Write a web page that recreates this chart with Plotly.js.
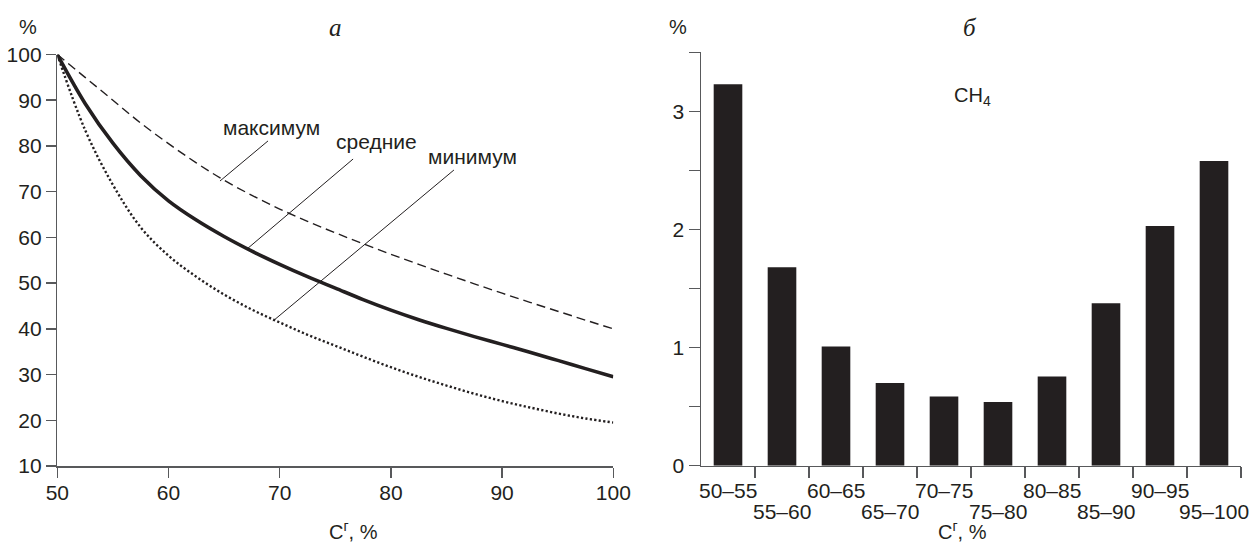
<!DOCTYPE html>
<html>
<head>
<meta charset="utf-8">
<script src="https://cdn.plot.ly/plotly-3.0.1.min.js"></script>
<style>html,body{margin:0;padding:0;background:#fff;}#chart{width:1252px;height:545px;}</style>
</head>
<body>
<div id="chart"></div>
<script>
// ---- Panel а: relative values vs carbon content ----
const carbonX    = [50, 52.5, 55, 57.5, 60, 62.5, 65, 67.5, 70, 72.5, 75, 77.5, 80, 82.5, 85, 87.5, 90, 92.5, 95, 97.5, 100];
const maxValues  = [100, 95, 90, 85, 80.5, 76.3, 72.5, 69.2, 66.2, 63.5, 61, 58.6, 56.3, 54.1, 51.95, 49.85, 47.8, 45.8, 43.85, 41.9, 40];
const meanValues = [100, 89.3, 80.6, 73.5, 68, 63.8, 60.2, 57, 54.1, 51.4, 48.9, 46.4, 44.1, 42, 40.1, 38.3, 36.6, 34.9, 33.1, 31.3, 29.5];
const minValues  = [100, 83.5, 71.5, 62.2, 56, 51.4, 47.5, 44.2, 41.4, 38.7, 36.3, 33.9, 31.6, 29.5, 27.6, 25.8, 24.2, 22.8, 21.5, 20.4, 19.5];
const seriesNames = ["максимум", "средние", "минимум"];
const leftXTicks = [50, 60, 70, 80, 90, 100];
const leftYTicks = [10, 20, 30, 40, 50, 60, 70, 80, 90, 100];

// ---- Panel б: CH4 histogram ----
const ranges = ["50–55", "55–60", "60–65", "65–70", "70–75", "75–80", "80–85", "85–90", "90–95", "95–100"];
const ch4Values = [3.23, 1.68, 1.01, 0.70, 0.585, 0.54, 0.755, 1.375, 2.03, 2.58];
const rightYTicks = [0, 1, 2, 3];

const INK = "#231f20";
const AXIS = "#58595b";
const FONT = "Liberation Sans, Arial, Helvetica, sans-serif";
const FS = 21;

const idx = ranges.map((r, i) => i);

const traces = [
  {x: carbonX, y: maxValues, name: seriesNames[0], type: "scatter", mode: "lines",
   line: {color: INK, width: 1.4, dash: "9px,5px", shape: "spline", smoothing: 1}, xaxis: "x", yaxis: "y"},
  {x: carbonX, y: meanValues, name: seriesNames[1], type: "scatter", mode: "lines",
   line: {color: INK, width: 3.6, shape: "spline", smoothing: 1}, xaxis: "x", yaxis: "y"},
  {x: carbonX, y: minValues, name: seriesNames[2], type: "scatter", mode: "lines",
   line: {color: INK, width: 2.4, dash: "2.2px,2.3px", shape: "spline", smoothing: 1}, xaxis: "x", yaxis: "y"},
  {x: idx, y: ch4Values, type: "bar", marker: {color: INK, line: {width: 0}}, width: 0.53,
   xaxis: "x2", yaxis: "y2"}
];

const tickFont = {family: FONT, size: FS, color: INK};

// leader lines (label -> curve), in data coordinates of panel а
const leaders = [
  {x0: 68.95, y0: 81.1, x1: 64.63, y1: 72.33},
  {x0: 76.6, y0: 77.14, x1: 67.06, y1: 57.46},
  {x0: 85.67, y0: 74.74, x1: 69.39, y1: 41.7}
];
const labelPos = [
  {x: 69.3, y: 84.0},
  {x: 78.7, y: 81.0},
  {x: 87.3, y: 77.8}
];

const shapes = leaders.map(l => ({type: "line", xref: "x", yref: "y",
  x0: l.x0, y0: l.y0, x1: l.x1, y1: l.y1, line: {color: INK, width: 1}}));

const annotations = [];
seriesNames.forEach((n, i) => annotations.push({
  xref: "x", yref: "y", x: labelPos[i].x, y: labelPos[i].y, text: n, showarrow: false,
  xanchor: "center", yanchor: "middle", font: {family: FONT, size: FS, color: INK}
}));
// category labels, staggered in two rows
ranges.forEach((r, i) => annotations.push({
  xref: "x2", yref: "paper", x: i, y: (i % 2 === 0) ? 1 - 490 / 545 : 1 - 511.5 / 545,
  text: r, showarrow: false, xanchor: "center", yanchor: "middle",
  font: {family: FONT, size: FS, color: INK}
}));
// panel titles, units, axis titles
const txt = (x, y, text, font, ya) => ({xref: "paper", yref: "paper", x: x / 1252, y: 1 - y / 545,
  text: text, showarrow: false, xanchor: "center", yanchor: ya || "middle", font: font});
annotations.push(txt(335, 27, "а", {family: "Liberation Serif, Times New Roman, serif", size: 25, color: INK, style: "italic"}));
annotations.push(txt(970, 27, "б", {family: "Liberation Serif, Times New Roman, serif", size: 25, color: INK, style: "italic"}));
annotations.push(txt(28, 27, "%", {family: FONT, size: 20, color: INK}));
annotations.push(txt(678, 27, "%", {family: FONT, size: 20, color: INK}));
annotations.push(txt(353, 545, "C<sup>г</sup>, %", {family: FONT, size: 20, color: INK}, "bottom"));
annotations.push(txt(962, 545, "C<sup>г</sup>, %", {family: FONT, size: 20, color: INK}, "bottom"));
annotations.push(txt(972, 96, "CH<sub>4</sub>", {family: FONT, size: 20, color: INK}));

const axisStyle = {showline: true, linecolor: AXIS, linewidth: 1.5, ticks: "outside", tickwidth: 1.5,
  tickcolor: AXIS, showgrid: false, zeroline: false, fixedrange: true};

const layout = {
  width: 1252, height: 545,
  margin: {l: 0, r: 0, t: 0, b: 0},
  paper_bgcolor: "#ffffff", plot_bgcolor: "#ffffff",
  showlegend: false,
  xaxis: Object.assign({}, axisStyle, {domain: [57.3 / 1252, 613.3 / 1252], range: [50, 100], tickvals: leftXTicks,
    ticklen: 10, tickfont: tickFont, anchor: "y", ticklabelstandoff: -3}),
  yaxis: Object.assign({}, axisStyle, {domain: [1 - 466 / 545, 1 - 54.5 / 545], range: [10, 100], tickvals: leftYTicks,
    ticklen: 10, tickfont: tickFont, anchor: "x"}),
  xaxis2: Object.assign({}, axisStyle, {domain: [701 / 1252, 1241 / 1252], range: [-0.5, 9.5],
    tickvals: idx.map(i => i + 0.5), showticklabels: false, ticklen: 11, anchor: "y2"}),
  yaxis2: Object.assign({}, axisStyle, {domain: [1 - 465.7 / 545, 1 - 52.3 / 545], range: [0, 3.5], tickvals: rightYTicks,
    ticklen: 11, tickfont: tickFont, anchor: "x2",
    minor: {dtick: 0.5, ticks: "outside", ticklen: 11, tickwidth: 1.5, tickcolor: AXIS, showgrid: false}}),
  shapes: shapes,
  annotations: annotations
};

Plotly.newPlot("chart", traces, layout, {displayModeBar: false, staticPlot: true});
</script>
</body>
</html>
